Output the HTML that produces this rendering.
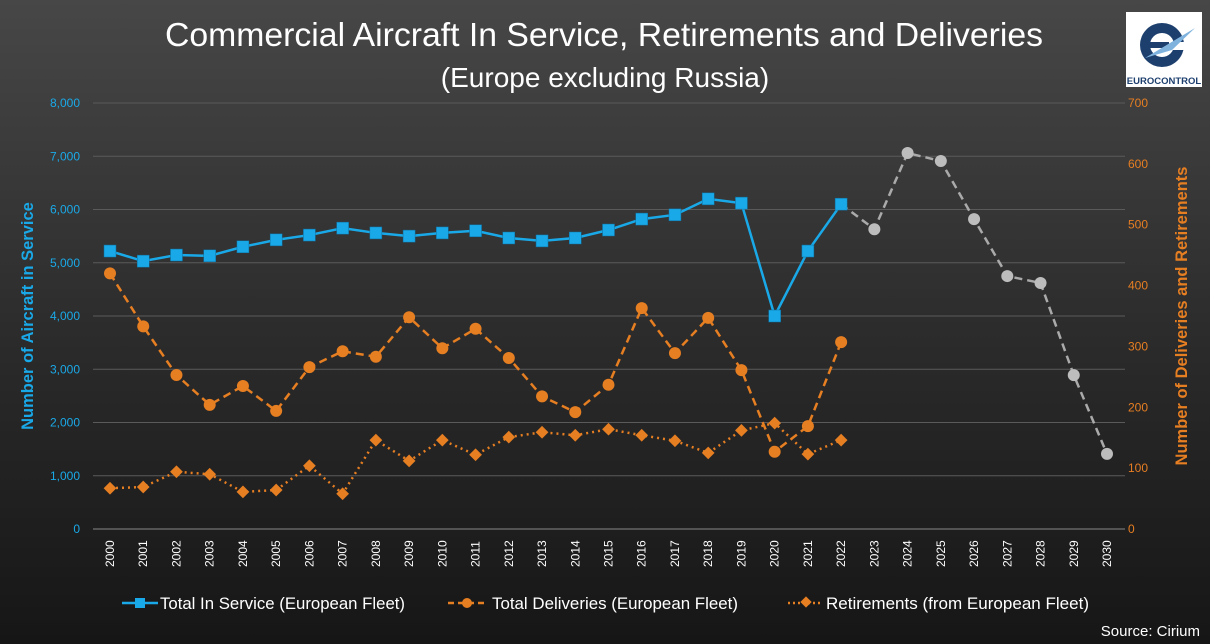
<!DOCTYPE html>
<html><head><meta charset="utf-8"><style>
html,body{margin:0;padding:0;}
body{width:1210px;height:644px;background:linear-gradient(#474747,#2a2a2a 55%,#161616);overflow:hidden;font-family:"Liberation Sans",sans-serif;}
</style></head><body>
<svg id="chart" width="1210" height="644" xmlns="http://www.w3.org/2000/svg" style="position:absolute;left:0;top:0">
<text x="604" y="46" text-anchor="middle" fill="#fff" font-size="33" textLength="878" lengthAdjust="spacingAndGlyphs">Commercial Aircraft In Service, Retirements and Deliveries</text>
<text x="605" y="87" text-anchor="middle" fill="#fff" font-size="28">(Europe excluding Russia)</text>
<g>
<rect x="1126" y="12" width="76" height="75" fill="#fff"/>
<circle cx="1162" cy="45" r="22" fill="#1d3f6e"/>
<circle cx="1162" cy="45" r="12" fill="#fff"/>
<rect x="1162" y="42" width="28" height="8" fill="#fff"/>
<rect x="1145" y="42" width="24" height="6" fill="#1d3f6e"/>
<polygon points="1145,58 1195,28 1172,50" fill="#7fb3de"/>
<text x="1164" y="84" text-anchor="middle" font-size="9.5" font-weight="bold" fill="#1d3f6e">EUROCONTROL</text>
</g>
<g id="grid"></g><g id="axes"></g><g id="series"></g>
<text transform="translate(33,316) rotate(-90)" text-anchor="middle" fill="#1aa9e8" font-size="16.5" font-weight="bold">Number of Aircraft in Service</text>
<text transform="translate(1187,316) rotate(-90)" text-anchor="middle" fill="#e67e22" font-size="16.5" font-weight="bold">Number of Deliveries and Retirements</text>
<g font-size="16.5" fill="#fff">
<g><line x1="122" y1="603" x2="158" y2="603" stroke="#1aa9e8" stroke-width="2.5"/><rect x="135" y="598" width="10" height="10" fill="#1aa9e8"/><text x="160" y="609" textLength="245" lengthAdjust="spacingAndGlyphs">Total In Service (European Fleet)</text></g>
<g><line x1="448" y1="603" x2="486" y2="603" stroke="#e67e22" stroke-width="2.5" stroke-dasharray="6,4"/><circle cx="467" cy="603" r="5" fill="#e67e22"/><text x="492" y="609" textLength="246" lengthAdjust="spacingAndGlyphs">Total Deliveries (European Fleet)</text></g>
<g><line x1="788" y1="603" x2="822" y2="603" stroke="#e67e22" stroke-width="2.5" stroke-dasharray="2,3"/><rect x="802" y="598" width="8" height="8" fill="#e67e22" transform="rotate(45 806 602)"/><text x="826" y="609" textLength="263" lengthAdjust="spacingAndGlyphs">Retirements (from European Fleet)</text></g>
</g>
<text x="1200" y="636" text-anchor="end" fill="#fff" font-size="15">Source: Cirium</text>
</svg>
<script>
const years=[];for(let y=2000;y<=2030;y++)years.push(String(y));
const inService=[5220,5030,5145,5130,5300,5430,5520,5650,5560,5500,5560,5600,5465,5410,5465,5615,5820,5900,6200,6120,4000,5220,6100];
const forecastYears=["2022","2023","2024","2025","2026","2027","2028","2029","2030"];
const forecast=[6100,5630,7060,6910,5820,4750,4620,2890,1410];
const deliveries=[420,333,253,204,235,194,266,292,283,348,297,329,281,218,192,237,363,289,347,261,127,169,307];
const retirements=[67,69,94,90,61,64,104,58,146,112,146,122,151,159,154,164,154,145,125,162,174,123,146];
const leftTicks=[0,1000,2000,3000,4000,5000,6000,7000,8000];
const rightTicks=[0,100,200,300,400,500,600,700];
const NS="http://www.w3.org/2000/svg";
const x=i=>110+i*(1107-110)/30;
const xy=y=>x(years.indexOf(y));
const yL=v=>529-v*(426/8000);
const yR=v=>529-v*(426/700);
function mk(t,a,p){const e=document.createElementNS(NS,t);for(const k in a)e.setAttribute(k,a[k]);document.getElementById(p).appendChild(e);return e;}
leftTicks.forEach(v=>{
 const l=mk('line',{x1:93,x2:1125,y1:yL(v),y2:yL(v),stroke:v?'#5a5a5a':'#888','stroke-width':1},'grid');
 
 
 const t=mk('text',{x:80,y:yL(v)+4,'text-anchor':'end',fill:'#1aa9e8','font-size':12},'axes');t.textContent=v.toLocaleString('en-US');
 
 
});
rightTicks.forEach(v=>{
 const t=mk('text',{x:1128,y:yR(v)+4,fill:'#e67e22','font-size':12},'axes');t.textContent=v;
 
 
});
years.forEach((y,i)=>{
 const t=mk('text',{transform:`translate(${x(i)+4},567) rotate(-90)`,fill:'#fff','font-size':12},'axes');t.textContent=y;
 
 
});
function line(vals,xs,fy,attrs,name){
 const p=mk('polyline',Object.assign({points:vals.map((v,i)=>xs(i)+','+fy(v)).join(' '),fill:'none'},attrs),'series');
 
 
}
line(forecast,i=>xy(forecastYears[i]),yL,{stroke:'#aaa','stroke-width':2.5,'stroke-dasharray':'8,5'},'forecast-line');
forecast.forEach((v,i)=>{if(i===0)return;const c=mk('circle',{cx:xy(forecastYears[i]),cy:yL(v),r:6,fill:'#bdbdbd'},'series');
 
 });
line(retirements,x,yR,{stroke:'#e67e22','stroke-width':2.5,'stroke-dasharray':'2,4'},'retirements-line');
retirements.forEach((v,i)=>{const r=mk('rect',{x:x(i)-4.5,y:yR(v)-4.5,width:9,height:9,fill:'#e67e22',transform:`rotate(45 ${x(i)} ${yR(v)})`},'series');
 
 });
line(deliveries,x,yR,{stroke:'#e67e22','stroke-width':2.5,'stroke-dasharray':'8,5'},'deliveries-line');
deliveries.forEach((v,i)=>{const c=mk('circle',{cx:x(i),cy:yR(v),r:6,fill:'#e67e22'},'series');
 
 });
line(inService,x,yL,{stroke:'#1aa9e8','stroke-width':2.5},'in-service-line');
inService.forEach((v,i)=>{const r=mk('rect',{x:x(i)-6,y:yL(v)-6,width:12,height:12,fill:'#1aa9e8',stroke:'#0d6fa0','stroke-width':0.5},'series');
 
 });
</script>
</body></html>
